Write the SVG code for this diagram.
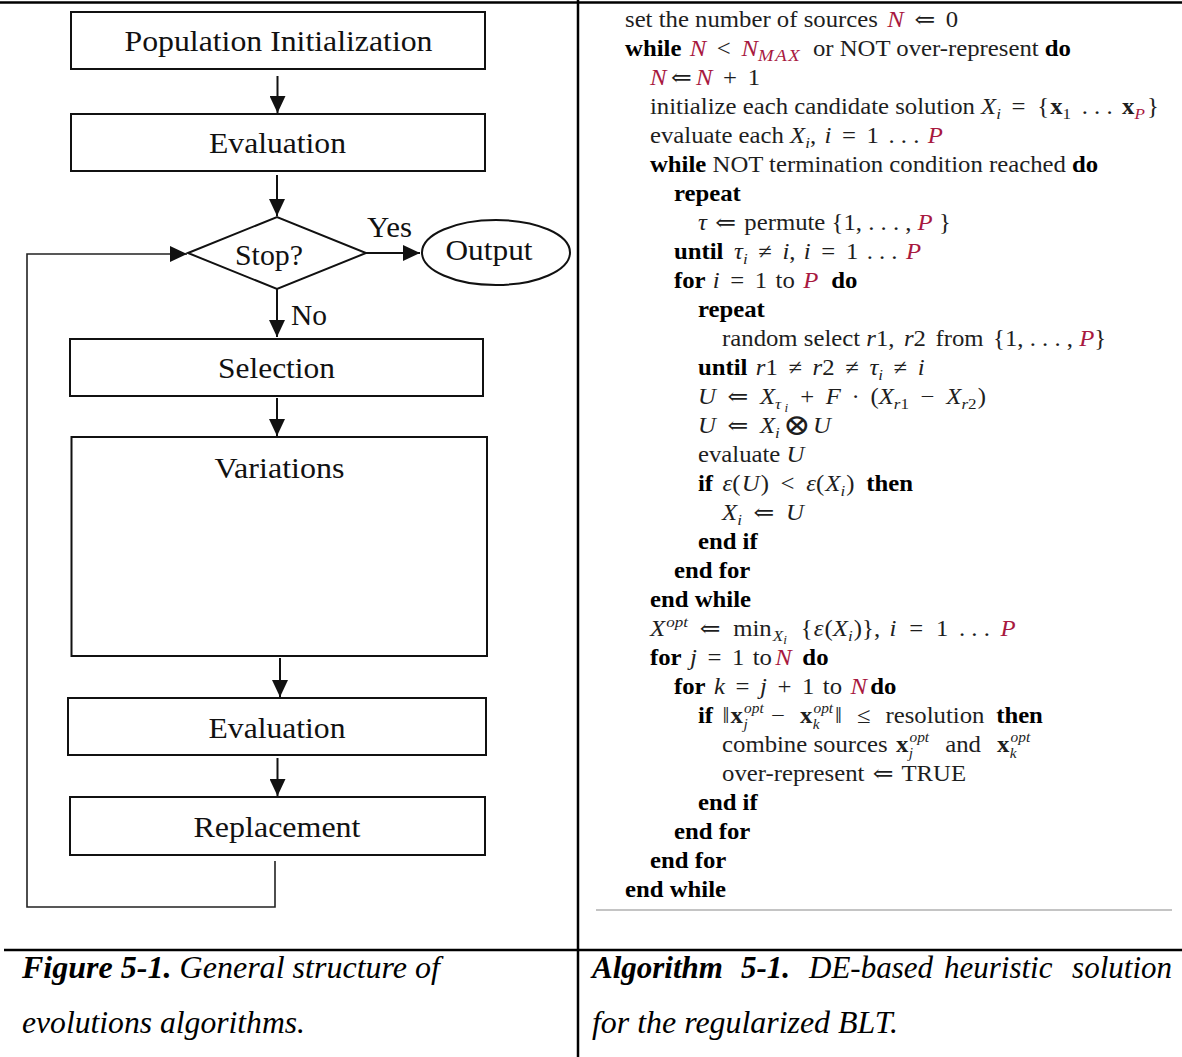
<svg xmlns="http://www.w3.org/2000/svg" width="1182" height="1057" viewBox="0 0 1182 1057">
<style>
  .box { fill: #fff; stroke: #111; stroke-width: 2; }
  .lbl { font-family: "Liberation Serif", "Times New Roman", serif; font-size: 29px; fill: #111; }
  .con { fill: none; stroke: #111; stroke-width: 2; }
  .loop { fill: none; stroke: #222; stroke-width: 1.6; }
  .rule { stroke: #000; stroke-width: 2.5; }
  .alg { font-family: "Liberation Serif", "DejaVu Serif", serif; font-size: 22.5px; fill: #1e1e1e; }
  .b { font-weight: bold; fill: #000; }
  .i { font-style: italic; }
  .r { font-style: italic; fill: #a8193f; }
  .s { font-size: 15.5px; }
  .ss { font-size: 12px; }
  .sp { font-size: 14px; }
  .m17 { font-size: 17px; letter-spacing: 1.5px; }
  .bx { font-weight: bold; }
  .cap { font-family: "Liberation Serif", "Times New Roman", serif; font-size: 31px; font-style: italic; fill: #000; }
</style>
<defs>
  <marker id="arr" markerUnits="userSpaceOnUse" markerWidth="18" markerHeight="16" refX="17" refY="8" orient="auto">
    <path d="M0,0 L17,8 L0,16 z" fill="#111"/>
  </marker>
</defs>
<rect x="0" y="0" width="1182" height="1057" fill="#fff"/>

<g id="table-lines">
  <line class="rule" x1="0" y1="2.5" x2="1182" y2="2.5" stroke-width="3"/>
  <line class="rule" x1="578" y1="0" x2="578" y2="1057" stroke-width="2"/>
  <line class="rule" x1="4" y1="950" x2="1182" y2="950"/>
  <line x1="596" y1="910" x2="1172" y2="910" stroke="#b0b0b0" stroke-width="1.5"/>
</g>

<g id="node-pop-init">
  <rect class="box" x="71" y="12" width="414" height="57"/>
  <text class="lbl" x="278.5" y="51" text-anchor="middle" textLength="308" lengthAdjust="spacingAndGlyphs">Population Initialization</text>
</g>
<g id="node-eval1">
  <rect class="box" x="71" y="114" width="414" height="57"/>
  <text class="lbl" x="277.5" y="153" text-anchor="middle" textLength="137" lengthAdjust="spacingAndGlyphs">Evaluation</text>
</g>
<g id="node-stop">
  <polygon class="box" points="188,253 277,217 366,253 277,289"/>
  <text class="lbl" x="269" y="265" text-anchor="middle" textLength="68" lengthAdjust="spacingAndGlyphs">Stop?</text>
</g>
<g id="node-output">
  <ellipse class="box" cx="496" cy="252.5" rx="74" ry="32.5"/>
  <text class="lbl" x="489" y="260" text-anchor="middle" textLength="87" lengthAdjust="spacingAndGlyphs">Output</text>
</g>
<g id="node-selection">
  <rect class="box" x="70" y="339" width="413" height="57"/>
  <text class="lbl" x="276.5" y="378" text-anchor="middle" textLength="117" lengthAdjust="spacingAndGlyphs">Selection</text>
</g>
<g id="node-variations">
  <rect class="box" x="71.5" y="437" width="415.5" height="219"/>
  <text class="lbl" x="279.5" y="478" text-anchor="middle" textLength="130" lengthAdjust="spacingAndGlyphs">Variations</text>
</g>
<g id="node-eval2">
  <rect class="box" x="68" y="698" width="418" height="57"/>
  <text class="lbl" x="277" y="737.5" text-anchor="middle" textLength="137" lengthAdjust="spacingAndGlyphs">Evaluation</text>
</g>
<g id="node-replacement">
  <rect class="box" x="70" y="797" width="415" height="58"/>
  <text class="lbl" x="277" y="837" text-anchor="middle" textLength="167" lengthAdjust="spacingAndGlyphs">Replacement</text>
</g>

<g id="connectors">
  <line class="con" x1="277.5" y1="76" x2="277.5" y2="113" marker-end="url(#arr)"/>
  <line class="con" x1="277" y1="175" x2="277" y2="216" marker-end="url(#arr)"/>
  <line class="con" x1="366" y1="253" x2="420" y2="253" marker-end="url(#arr)"/>
  <line class="con" x1="277" y1="289" x2="277" y2="337" marker-end="url(#arr)"/>
  <line class="con" x1="277" y1="398" x2="277" y2="436" marker-end="url(#arr)"/>
  <line class="con" x1="280" y1="658" x2="280" y2="697" marker-end="url(#arr)"/>
  <line class="con" x1="277.5" y1="758" x2="277.5" y2="796" marker-end="url(#arr)"/>
  <polyline class="loop" points="275,861 275,907 27,907 27,254 187,254" marker-end="url(#arr)"/>
  <text class="lbl" x="389.5" y="237" text-anchor="middle" textLength="45" lengthAdjust="spacingAndGlyphs">Yes</text>
  <text class="lbl" x="291" y="325" textLength="36" lengthAdjust="spacingAndGlyphs">No</text>
</g>

<g id="algorithm" class="alg" transform="scale(1.1,1)">
  <text x="568.2" y="27">set the number of sources <tspan class="r" dx="3">N</tspan><tspan dx="4"> ⇐</tspan><tspan dx="4"> 0</tspan></text>
  <text x="568.2" y="56"><tspan class="b">while</tspan><tspan class="r" dx="2"> N</tspan><tspan dx="4"> &lt;</tspan><tspan class="r" dx="4"> N</tspan><tspan class="r m17" dy="5">MAX</tspan><tspan dy="-5" dx="5"> or NOT over-represent </tspan><tspan class="b">do</tspan></text>
  <text x="590.9" y="85"><tspan class="r">N</tspan><tspan dx="4">⇐</tspan><tspan class="r" dx="4">N</tspan><tspan dx="4"> +</tspan><tspan dx="4"> 1</tspan></text>
  <text x="590.9" y="114">initialize each candidate solution <tspan class="i">X</tspan><tspan class="i s" dy="5">i</tspan><tspan dy="-5" dx="4"> =</tspan><tspan dx="5"> {</tspan><tspan class="bx" dx="1">x</tspan><tspan class="s" dy="5">1</tspan><tspan dy="-5" dx="4"> . . . </tspan><tspan class="bx" dx="3">x</tspan><tspan class="r s" dy="5">P</tspan><tspan dy="-5" dx="2">}</tspan></text>
  <text x="590.9" y="143">evaluate each <tspan class="i">X</tspan><tspan class="i s" dy="5">i</tspan><tspan dy="-5">, </tspan><tspan class="i" dx="2">i</tspan><tspan dx="4"> =</tspan><tspan dx="4"> 1</tspan><tspan dx="3"> . . . </tspan><tspan class="r" dx="2">P</tspan></text>
  <text x="590.9" y="172"><tspan class="b">while</tspan> NOT termination condition reached <tspan class="b">do</tspan></text>
  <text x="612.7" y="201"><tspan class="b">repeat</tspan></text>
  <text x="634.5" y="230"><tspan class="i">τ</tspan><tspan dx="2"> ⇐</tspan><tspan dx="2"> permute {1, . . . , </tspan><tspan class="r">P</tspan> }</text>
  <text x="612.7" y="259"><tspan class="b">until</tspan><tspan class="i" dx="4"> τ</tspan><tspan class="i s" dy="5">i</tspan><tspan dy="-5" dx="4"> ≠</tspan><tspan class="i" dx="4"> i</tspan>,<tspan class="i" dx="2"> i</tspan><tspan dx="4"> =</tspan><tspan dx="4"> 1</tspan><tspan dx="2"> . . . </tspan><tspan class="r" dx="2">P</tspan></text>
  <text x="612.7" y="288"><tspan class="b">for</tspan><tspan class="i" dx="1"> i</tspan><tspan dx="4"> =</tspan><tspan dx="4"> 1</tspan><tspan dx="2"> to </tspan><tspan class="r" dx="2">P</tspan><tspan class="b" dx="6"> do</tspan></text>
  <text x="634.5" y="317"><tspan class="b">repeat</tspan></text>
  <text x="656.4" y="346">random select <tspan class="i">r</tspan>1,<tspan class="i" dx="3"> r</tspan>2<tspan dx="3"> from</tspan><tspan dx="3"> {1, . . . , </tspan><tspan class="r">P</tspan>}</text>
  <text x="634.5" y="375"><tspan class="b">until</tspan><tspan class="i" dx="2"> r</tspan>1<tspan dx="4"> ≠</tspan><tspan class="i" dx="4"> r</tspan>2<tspan dx="4"> ≠</tspan><tspan class="i" dx="4"> τ</tspan><tspan class="i s" dy="5">i</tspan><tspan dy="-5" dx="4"> ≠</tspan><tspan class="i" dx="4"> i</tspan></text>
  <text x="634.5" y="404"><tspan class="i">U</tspan><tspan dx="5"> ⇐</tspan><tspan class="i" dx="5"> X</tspan><tspan class="i s" dy="5">τ</tspan><tspan class="i ss" dy="3" dx="3">i</tspan><tspan dy="-8" dx="11">+</tspan><tspan class="i" dx="5"> F</tspan><tspan dx="4"> ·</tspan><tspan dx="4"> (</tspan><tspan class="i">X</tspan><tspan class="i s" dy="5">r</tspan><tspan class="s">1</tspan><tspan dy="-5" dx="5"> −</tspan><tspan class="i" dx="5"> X</tspan><tspan class="i s" dy="5">r</tspan><tspan class="s">2</tspan><tspan dy="-5" dx="1">)</tspan></text>
  <text x="634.5" y="433"><tspan class="i">U</tspan><tspan dx="5"> ⇐</tspan><tspan class="i" dx="5"> X</tspan><tspan class="i s" dy="5">i</tspan><tspan dy="-3" dx="3" font-size="30px" font-family="DejaVu Serif, serif">⊗</tspan><tspan class="i" dx="2" dy="-2">U</tspan></text>
  <text x="634.5" y="462">evaluate <tspan class="i">U</tspan></text>
  <text x="634.5" y="491"><tspan class="b">if</tspan><tspan class="i" dx="3"> ε</tspan>(<tspan class="i" dx="1">U</tspan><tspan dx="1">)</tspan><tspan dx="5"> &lt;</tspan><tspan class="i" dx="5"> ε</tspan>(<tspan class="i" dx="1">X</tspan><tspan class="i s" dy="5">i</tspan><tspan dy="-5" dx="1">) </tspan><tspan class="b" dx="5">then</tspan></text>
  <text x="656.4" y="520"><tspan class="i">X</tspan><tspan class="i s" dy="5">i</tspan><tspan dy="-5" dx="5"> ⇐</tspan><tspan class="i" dx="5"> U</tspan></text>
  <text x="634.5" y="549"><tspan class="b">end if</tspan></text>
  <text x="612.7" y="578"><tspan class="b">end for</tspan></text>
  <text x="590.9" y="607"><tspan class="b">end while</tspan></text>
  <text x="590.9" y="636"><tspan class="i">X</tspan><tspan class="i s" dy="-9" dx="1">opt</tspan><tspan dy="9" dx="5"> ⇐</tspan><tspan dx="6"> min</tspan><tspan class="i s" dy="5" dx="1">X</tspan><tspan class="i ss" dy="3">i</tspan><tspan dy="-8" dx="7"> {</tspan><tspan class="i" dx="1">ε</tspan><tspan dx="1">(</tspan><tspan class="i">X</tspan><tspan class="i s" dy="5">i</tspan><tspan dy="-5" dx="1">)}, </tspan><tspan class="i" dx="3">i</tspan><tspan dx="6"> =</tspan><tspan dx="6"> 1</tspan><tspan dx="4"> . . . </tspan><tspan class="r" dx="4">P</tspan></text>
  <text x="590.9" y="665"><tspan class="b">for</tspan><tspan class="i" dx="2"> j</tspan><tspan dx="4"> =</tspan><tspan dx="4"> 1</tspan><tspan dx="2"> to</tspan><tspan class="r" dx="3">N</tspan><tspan class="b" dx="4"> do</tspan></text>
  <text x="612.7" y="694"><tspan class="b">for</tspan><tspan class="i" dx="2"> k</tspan><tspan dx="4"> =</tspan><tspan class="i" dx="4"> j</tspan><tspan dx="4"> +</tspan><tspan dx="4"> 1</tspan><tspan dx="2"> to </tspan><tspan class="r" dx="2">N</tspan><tspan class="b" dx="3">do</tspan></text>
  <text x="634.5" y="723"><tspan class="b">if</tspan><tspan dx="3"> ‖</tspan><tspan class="bx" dx="1">x</tspan><tspan class="i sp" dy="-10" dx="1">opt</tspan><tspan class="i sp" dx="-18.5" dy="16">j</tspan><tspan dx="15.6" dy="-6"> −</tspan><tspan class="bx" dx="8"> x</tspan><tspan class="i sp" dy="-10" dx="1">opt</tspan><tspan class="i sp" dx="-18.5" dy="16">k</tspan><tspan dx="14" dy="-6">‖</tspan><tspan dx="8"> ≤</tspan><tspan dx="8"> resolution </tspan><tspan class="b" dx="5">then</tspan></text>
  <text x="656.4" y="752">combine sources <tspan class="bx" dx="2">x</tspan><tspan class="i sp" dy="-10" dx="1">opt</tspan><tspan class="i sp" dx="-18.5" dy="16">j</tspan><tspan dx="14.6" dy="-6"> </tspan><tspan dx="9">and </tspan><tspan class="bx" dx="9">x</tspan><tspan class="i sp" dy="-10" dx="1">opt</tspan><tspan class="i sp" dx="-18.5" dy="16">k</tspan></text>
  <text x="656.4" y="781">over-represent<tspan dx="2"> ⇐</tspan><tspan dx="2"> TRUE</tspan></text>
  <text x="634.5" y="810"><tspan class="b">end if</tspan></text>
  <text x="612.7" y="839"><tspan class="b">end for</tspan></text>
  <text x="590.9" y="868"><tspan class="b">end for</tspan></text>
  <text x="568.2" y="897"><tspan class="b">end while</tspan></text>
</g>

<g id="captions" class="cap">
  <text x="22" y="978" textLength="418" lengthAdjust="spacingAndGlyphs"><tspan font-weight="bold">Figure 5-1.</tspan> General structure of</text>
  <text x="22" y="1033" textLength="283" lengthAdjust="spacingAndGlyphs">evolutions algorithms.</text>
  <text y="978"><tspan x="592" font-weight="bold">Algorithm</tspan><tspan x="741" font-weight="bold">5-1.</tspan><tspan x="809">DE-based</tspan><tspan x="944">heuristic</tspan><tspan x="1172" text-anchor="end">solution</tspan></text>
  <text x="592" y="1033" textLength="306" lengthAdjust="spacingAndGlyphs">for the regularized BLT.</text>
</g>
</svg>
